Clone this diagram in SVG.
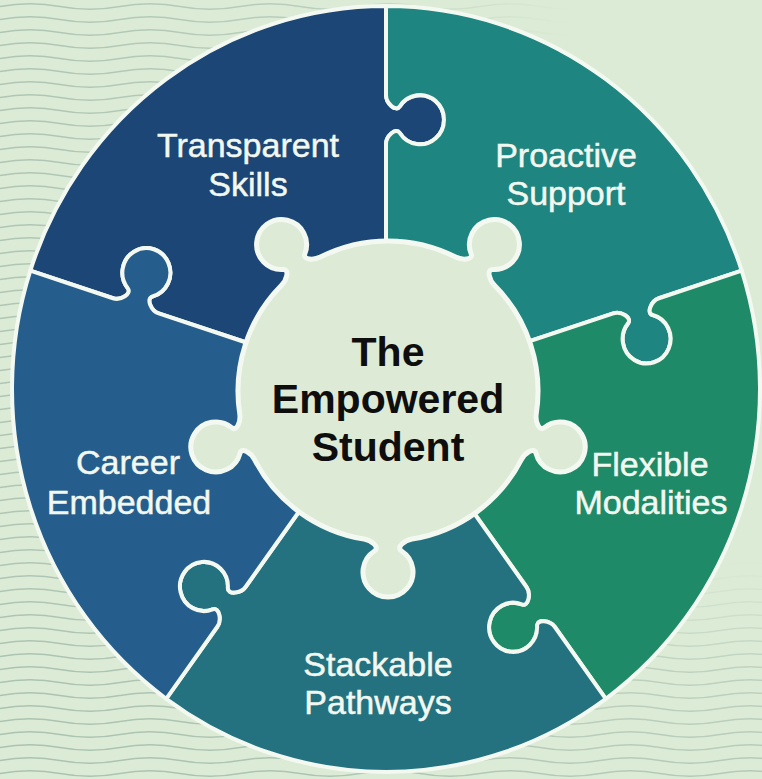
<svg xmlns="http://www.w3.org/2000/svg" width="762" height="779" viewBox="0 0 762 779">
  <defs>
    <style>
      .piece { stroke: #f3f9f1; stroke-width: 4; stroke-linejoin: round; }
      .label { font-family: "Liberation Sans", Arial, sans-serif; font-size: 34px; fill: #f2f8f0; stroke: #f2f8f0; stroke-width: 0.5; text-anchor: middle; }
      .center { font-family: "Liberation Sans", Arial, sans-serif; font-size: 41px; font-weight: bold; fill: #0e0e0e; text-anchor: middle; }
    </style>
    <pattern id="waves" patternUnits="userSpaceOnUse" width="120" height="13">
      <path d="M0 6.5 Q30 1 60 6.5 T120 6.5" fill="none" stroke="#9db7a6" stroke-width="1.3"/>
    </pattern>
    <linearGradient id="fadeL" x1="0" y1="0" x2="1" y2="0">
      <stop offset="0" stop-color="#fff" stop-opacity="0.9"/>
      <stop offset="0.4" stop-color="#fff" stop-opacity="0.7"/>
      <stop offset="0.75" stop-color="#fff" stop-opacity="0"/>
    </linearGradient>
    <linearGradient id="fadeB" x1="0" y1="0" x2="0" y2="1">
      <stop offset="0" stop-color="#fff" stop-opacity="0"/>
      <stop offset="0.5" stop-color="#fff" stop-opacity="0.6"/>
      <stop offset="1" stop-color="#fff" stop-opacity="0.8"/>
    </linearGradient>
    <mask id="waveMask" maskUnits="userSpaceOnUse" x="0" y="0" width="762" height="779">
      <rect x="0" y="0" width="762" height="779" fill="url(#fadeL)"/>
      <rect x="0" y="560" width="762" height="219" fill="url(#fadeB)"/>
    </mask>
  </defs>

  <rect id="background" x="0" y="0" width="762" height="779" fill="#dcebd6"/>
  <rect x="0" y="0" width="762" height="779" fill="url(#waves)" mask="url(#waveMask)" opacity="0.8"/>

  <g id="puzzle" transform="translate(386 389) scale(1 1.024)">
    <g id="transparent-skills-piece">
      <path class="piece" fill="#1b4676" d="M 0 0 L -114.13 -37.08 L -227.30 -73.86 C -234.91 -76.33 -240.29 -88.59 -233.51 -90.38 A 24 24 0 1 0 -258.23 -98.41 C -253.79 -92.98 -265.35 -86.22 -272.95 -88.69 L -355.70 -115.57 A 374 374 0 0 1 0 -374 L 0 -287 C 0 -279 10 -270.1 13.8 -276 A 24 24 0 1 1 13.8 -250 C 10 -255.9 0 -247 0 -239 L 0 0 Z"/>
    </g>
    <g id="proactive-support-piece">
      <path class="piece" fill="#1e8580" d="M 0 0 L 0 -239 C 0 -247 10 -255.9 13.8 -250 A 24 24 0 1 0 13.8 -276 C 10 -270.1 0 -279 0 -287 L 0 -374 A 374 374 0 0 1 355.70 -115.57 L 272.95 -88.69 C 265.35 -86.22 259.97 -73.96 266.75 -72.17 A 24 24 0 1 1 242.03 -64.13 C 246.47 -69.57 234.91 -76.33 227.30 -73.86 L 0 0 Z"/>
    </g>
    <g id="flexible-modalities-piece">
      <path class="piece" fill="#1f8a68" d="M 0 0 L 227.30 -73.86 C 234.91 -76.33 246.47 -69.57 242.03 -64.13 A 24 24 0 1 0 266.75 -72.17 C 259.97 -73.96 265.35 -86.22 272.95 -88.69 L 355.70 -115.57 A 374 374 0 0 1 219.83 302.57 L 168.70 232.19 C 163.99 225.72 150.67 224.40 151.07 231.40 A 24 24 0 1 1 135.79 210.37 C 142.33 212.91 145.18 199.83 140.48 193.36 L 0 0 Z"/>
    </g>
    <g id="stackable-pathways-piece">
      <path class="piece" fill="#247280" d="M 0 0 L 140.48 193.36 C 145.18 199.83 142.33 212.91 135.79 210.37 A 24 24 0 1 0 151.07 231.40 C 150.67 224.40 163.99 225.72 168.70 232.19 L 219.83 302.57 A 374 374 0 0 1 -219.83 302.57 L -168.70 232.19 C -163.99 225.72 -166.85 212.64 -173.39 215.18 A 24 24 0 1 1 -158.11 194.15 C -158.51 201.15 -145.18 199.83 -140.48 193.36 L 0 0 Z"/>
    </g>
    <g id="career-embedded-piece">
      <path class="piece" fill="#255e8c" d="M 0 0 L -140.48 193.36 C -145.18 199.83 -158.51 201.15 -158.11 194.15 A 24 24 0 1 0 -173.39 215.18 C -166.85 212.64 -163.99 225.72 -168.70 232.19 L -219.83 302.57 A 374 374 0 0 1 -355.70 -115.57 L -272.95 -88.69 C -265.35 -86.22 -253.79 -92.98 -258.23 -98.41 A 24 24 0 1 1 -233.51 -90.38 C -240.29 -88.59 -234.91 -76.33 -227.30 -73.86 L 0 0 Z"/>
    </g>
  </g>

  <g id="hub">
    <path transform="translate(388 391)" fill="#ddead6" stroke="#f3f9f1" stroke-width="5" stroke-linejoin="round" d="M -106.45 -105.68 C -101.53 -110.66 -97.96 -121.90 -104.97 -121.50 A 25 25 0 1 1 -83.13 -137.38 C -85.66 -130.84 -73.87 -130.76 -67.61 -133.90 A 150 150 0 0 1 67.61 -133.90 C 73.87 -130.76 85.66 -130.84 83.13 -137.38 A 25 25 0 1 1 104.97 -121.50 C 97.96 -121.90 101.53 -110.66 106.45 -105.68 A 150 150 0 0 1 148.24 22.93 C 147.18 29.85 150.91 41.04 156.34 36.60 A 25 25 0 1 1 148.00 62.28 C 146.21 55.50 136.62 62.37 133.40 68.59 A 150 150 0 0 1 24 148.07 C 17.1 149.2 7.6 156.2 13.5 160 A 25 25 0 1 1 -13.5 160 C -7.6 156.2 -17.1 149.2 -24 148.07 A 150 150 0 0 1 -133.40 68.59 C -136.62 62.37 -146.21 55.50 -148.00 62.28 A 25 25 0 1 1 -156.34 36.60 C -150.91 41.04 -147.18 29.85 -148.24 22.93 A 150 150 0 0 1 -106.45 -105.68 Z"/>
    <text class="center" x="388" y="366">The</text>
    <text class="center" x="388" y="413">Empowered</text>
    <text class="center" x="388" y="461">Student</text>
  </g>

  <g id="transparent-skills">
    <text class="label" x="248" y="157">Transparent</text>
    <text class="label" x="248" y="196">Skills</text>
  </g>
  <g id="proactive-support">
    <text class="label" x="566" y="167">Proactive</text>
    <text class="label" x="566" y="205">Support</text>
  </g>
  <g id="flexible-modalities">
    <text class="label" x="650" y="476">Flexible</text>
    <text class="label" x="651" y="514">Modalities</text>
  </g>
  <g id="stackable-pathways">
    <text class="label" x="378" y="676">Stackable</text>
    <text class="label" x="378" y="714">Pathways</text>
  </g>
  <g id="career-embedded">
    <text class="label" x="128" y="474">Career</text>
    <text class="label" x="129" y="514">Embedded</text>
  </g>
</svg>
